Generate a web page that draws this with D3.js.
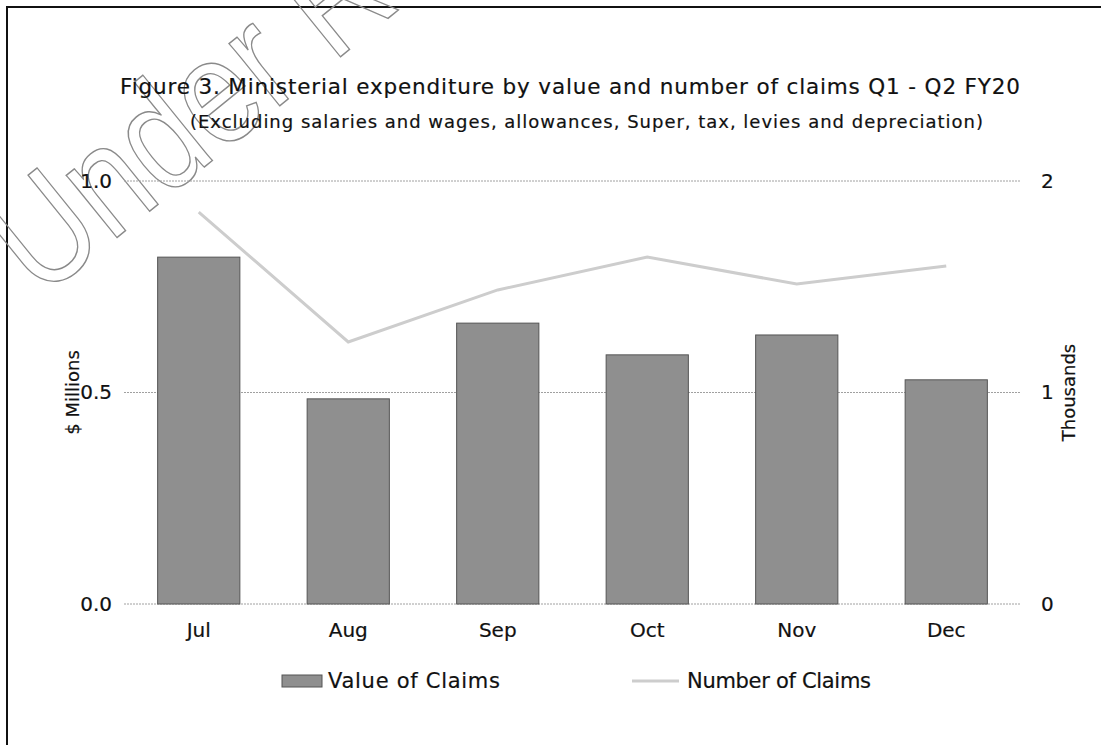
<!DOCTYPE html>
<html>
<head>
<meta charset="utf-8">
<script src="https://cdn.jsdelivr.net/npm/d3@7"></script>
<style>
  body { margin: 0; background: #fff; }
  text { font-family: "DejaVu Sans", "Liberation Sans", Arial, sans-serif; fill: #111; }
  .ink { stroke: #111; stroke-width: 0.2px; }
</style>
</head>
<body>
<div id="chart"></div>
<script>
// Months on the x axis
const months = ['Jul', 'Aug', 'Sep', 'Oct', 'Nov', 'Dec'];
// Value of claims, $ millions (left axis)
const claimValues = [0.82, 0.485, 0.664, 0.589, 0.636, 0.53];
// Number of claims, thousands (right axis)
const claimCounts = [1.853, 1.239, 1.485, 1.64, 1.513, 1.598];
// Tick labels
const leftTicks = [0, 0.5, 1.0];
const rightTicks = [0, 1, 2];

let svgWidth = 1101;
let svgHeight = 745;

let margin = { top: 181, right: 80, bottom: 141, left: 124 };
let width = 1021 - margin.left;
let height = 604 - margin.top;

let svg = d3.select('#chart')
  .append('svg')
  .attr('width', svgWidth)
  .attr('height', svgHeight);

// Outer frame of the scanned figure
svg.append('path')
  .attr('d', 'M7,760 L7,7 L1110,7')
  .attr('fill', 'none')
  .attr('stroke', '#111')
  .attr('stroke-width', 2);

// Watermark (outline letters)
svg.append('text')
  .attr('transform', 'translate(40,300) rotate(-39) scale(0.95,1.15)')
  .attr('font-size', 132)
  .style('font-family', '"Liberation Sans", Arial, sans-serif')
  .style('fill', 'none')
  .attr('stroke', '#8a8a8a')
  .attr('stroke-width', 1.3)
  .text('Under Review');

let chartGroup = svg.append('g')
  .attr('transform', `translate(${margin.left}, ${margin.top})`);

// Scales
let xScale = d3.scaleBand()
  .domain(months)
  .range([0, width])
  .paddingInner(0.45)
  .paddingOuter(0.225);

let yLeft = d3.scaleLinear().domain([0, 1]).range([height, 0]);
let yRight = d3.scaleLinear().domain([0, 2]).range([height, 0]);

// Gridlines
chartGroup.selectAll('.grid')
  .data(leftTicks)
  .enter()
  .append('line')
  .attr('x1', 0)
  .attr('x2', width)
  .attr('y1', d => yLeft(d))
  .attr('y2', d => yLeft(d))
  .attr('stroke', '#a0a0a0')
  .attr('stroke-width', 1)
  .attr('stroke-dasharray', '2,1');

// Axes (labels only)
let leftAxis = d3.axisLeft(yLeft).tickValues(leftTicks).tickFormat(d3.format('.1f')).tickSize(0).tickPadding(12);
let rightAxis = d3.axisRight(yRight).tickValues(rightTicks).tickFormat(d3.format('d')).tickSize(0).tickPadding(20);
let bottomAxis = d3.axisBottom(xScale).tickSize(0).tickPadding(19);

function styleAxis(g) {
  g.select('.domain').remove();
  g.selectAll('text').attr('font-size', 20).attr('class', 'ink').style('fill', '#111')
    .style('font-family', '"DejaVu Sans", "Liberation Sans", Arial, sans-serif');
}

chartGroup.append('g').call(leftAxis).call(styleAxis);
chartGroup.append('g').attr('transform', `translate(${width}, 0)`).call(rightAxis).call(styleAxis);
chartGroup.append('g').attr('transform', `translate(0, ${height})`).call(bottomAxis).call(styleAxis);

// Bars
chartGroup.selectAll('.bar')
  .data(claimValues)
  .enter()
  .append('rect')
  .attr('class', 'bar')
  .attr('x', (d, i) => xScale(months[i]))
  .attr('y', d => yLeft(d))
  .attr('width', xScale.bandwidth())
  .attr('height', d => height - yLeft(d))
  .attr('fill', '#8f8f8f')
  .attr('stroke', '#555')
  .attr('stroke-width', 1);

// Line
let line = d3.line()
  .x((d, i) => xScale(months[i]) + xScale.bandwidth() / 2)
  .y(d => yRight(d));

chartGroup.append('path')
  .datum(claimCounts)
  .attr('d', line)
  .attr('fill', 'none')
  .attr('stroke', '#cdcdcd')
  .attr('stroke-width', 3);

// Axis titles
svg.append('text')
  .attr('class', 'ink')
  .attr('transform', `translate(79, ${margin.top + height / 2}) rotate(-90)`)
  .attr('text-anchor', 'middle')
  .attr('font-size', 18)
  .text('$ Millions');

svg.append('text')
  .attr('class', 'ink')
  .attr('transform', `translate(1075, ${margin.top + height / 2}) rotate(-90)`)
  .attr('text-anchor', 'middle')
  .attr('font-size', 18)
  .text('Thousands');

// Titles
svg.append('text')
  .attr('class', 'ink')
  .attr('x', 120)
  .attr('y', 94)
  .attr('font-size', 21.5)
  .attr('textLength', 900)
  .attr('lengthAdjust', 'spacing')
  .text('Figure 3. Ministerial expenditure by value and number of claims Q1 - Q2 FY20');

svg.append('text')
  .attr('class', 'ink')
  .attr('x', 190)
  .attr('y', 128)
  .attr('font-size', 18)
  .attr('textLength', 793)
  .attr('lengthAdjust', 'spacing')
  .text('(Excluding salaries and wages, allowances, Super, tax, levies and depreciation)');

// Legend
let legend = svg.append('g').attr('transform', 'translate(0, 681)');
legend.append('rect')
  .attr('x', 282).attr('y', -6).attr('width', 40).attr('height', 12)
  .attr('fill', '#8f8f8f').attr('stroke', '#555').attr('stroke-width', 1);
legend.append('text')
  .attr('class', 'ink')
  .attr('x', 328).attr('y', 7).attr('font-size', 21)
  .attr('textLength', 172)
  .attr('lengthAdjust', 'spacing')
  .text('Value of Claims');
legend.append('line')
  .attr('x1', 632).attr('x2', 679).attr('y1', 0).attr('y2', 0)
  .attr('stroke', '#cdcdcd').attr('stroke-width', 3);
legend.append('text')
  .attr('class', 'ink')
  .attr('x', 687).attr('y', 7).attr('font-size', 21)
  .attr('textLength', 184)
  .attr('lengthAdjust', 'spacing')
  .text('Number of Claims');
</script>
</body>
</html>
